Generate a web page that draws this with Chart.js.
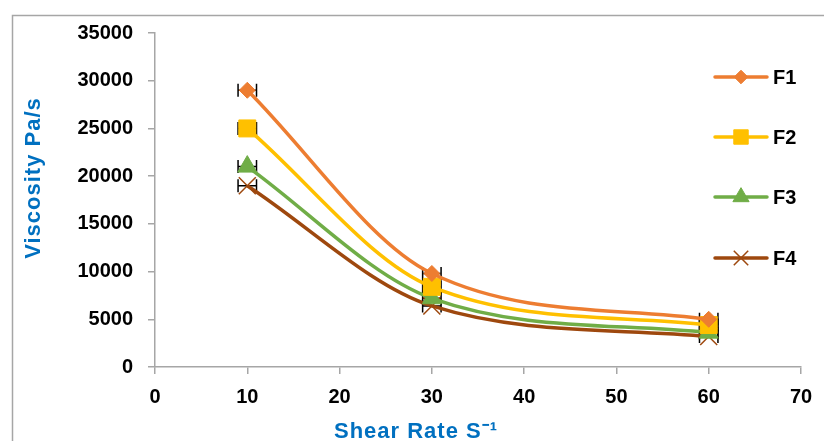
<!DOCTYPE html>
<html>
<head>
<meta charset="utf-8">
<script src="https://cdn.jsdelivr.net/npm/chart.js@4.4.1/dist/chart.umd.min.js"></script>
<style>
  html, body { margin: 0; padding: 0; background: #fff; }
  #wrap { width: 824px; height: 441px; }
</style>
</head>
<body>
<div id="wrap"><canvas id="myChart" width="824" height="441"></canvas></div>
<script>
// dane
const shearRate = [10, 30, 60];
const f1 = [29000, 9800, 5000];
const f2 = [25000, 8400, 4400];
const f3 = [21000, 7200, 3600];
const f4 = [19000, 6400, 3200];
const xError = [1, 1, 1];
const seriesNames = ['F1', 'F2', 'F3', 'F4'];
const xTicks = [0, 10, 20, 30, 40, 50, 60, 70];
const yTicks = [0, 5000, 10000, 15000, 20000, 25000, 30000, 35000];

const FONT = '"Liberation Sans", Arial, sans-serif';
const axisGray = '#a6a6a6';

function toPoints(values) {
    return shearRate.map((x, i) => ({ x: x, y: values[i] }));
}

function makeSet(label, values, color, style, radius, bw) {
    return {
        label: label,
        data: toPoints(values),
        borderColor: color,
        backgroundColor: color,
        borderWidth: 3.5,
        cubicInterpolationMode: 'monotone',
        pointStyle: style,
        pointRadius: radius,
        pointHoverRadius: radius,
        pointBackgroundColor: color,
        pointBorderColor: color,
        pointBorderWidth: bw
    };
}

// obramowanie + tytuły osi
const framePlugin = {
    id: 'frame',
    beforeDraw(chart) {
        const ctx = chart.ctx;
        ctx.save();
        ctx.fillStyle = '#fff';
        ctx.fillRect(0, 0, chart.width, chart.height);
        ctx.strokeStyle = axisGray;
        ctx.lineWidth = 1.5;
        ctx.strokeRect(12.5, 15.5, 900, 600);
        ctx.restore();
    },
    afterDraw(chart) {
        const ctx = chart.ctx;
        ctx.save();
        ctx.fillStyle = '#0070C0';
        ctx.font = 'bold 22px ' + FONT;
        ctx.letterSpacing = '1px';
        ctx.textAlign = 'center';
        ctx.textBaseline = 'alphabetic';
        ctx.fillText('Shear Rate S\u207B\u00B9', 416, 438);
        ctx.translate(40, 178);
        ctx.rotate(-Math.PI / 2);
        ctx.fillText('Viscosity Pa/s', 0, 0);
        ctx.restore();
    }
};

// poziome słupki błędów
const errorBarPlugin = {
    id: 'errorBars',
    beforeDatasetsDraw(chart) {
        const ctx = chart.ctx;
        const xs = chart.scales.x, ys = chart.scales.y;
        ctx.save();
        ctx.strokeStyle = '#000';
        ctx.lineWidth = 1.5;
        chart.data.datasets.forEach(ds => {
            ds.data.forEach((p, i) => {
                const y = ys.getPixelForValue(p.y);
                const x1 = xs.getPixelForValue(p.x - xError[i]);
                const x2 = xs.getPixelForValue(p.x + xError[i]);
                ctx.beginPath();
                ctx.moveTo(x1, y); ctx.lineTo(x2, y);
                ctx.moveTo(x1, y - 6.5); ctx.lineTo(x1, y + 6.5);
                ctx.moveTo(x2, y - 6.5); ctx.lineTo(x2, y + 6.5);
                ctx.stroke();
            });
        });
        ctx.restore();
    }
};

// legenda wewnątrz wykresu
const legendPlugin = {
    id: 'innerLegend',
    afterDatasetsDraw(chart) {
        const ctx = chart.ctx;
        const rows = [77, 137, 197, 258];
        ctx.save();
        chart.data.datasets.forEach((ds, i) => {
            const y = rows[i];
            ctx.strokeStyle = ds.borderColor;
            ctx.lineWidth = 3.5;
            ctx.lineCap = 'round';
            ctx.beginPath();
            ctx.moveTo(715, y); ctx.lineTo(767, y);
            ctx.stroke();
            ctx.fillStyle = ds.pointBackgroundColor;
            ctx.strokeStyle = ds.pointBorderColor;
            ctx.lineWidth = ds.pointBorderWidth;
            ctx.lineCap = 'butt';
            Chart.helpers.drawPoint(ctx, {
                pointStyle: ds.pointStyle,
                radius: ds.pointRadius * 0.85,
                rotation: 0,
                borderWidth: ds.pointBorderWidth
            }, 741, y);
            ctx.fillStyle = '#000';
            ctx.font = 'bold 20px ' + FONT;
            ctx.textAlign = 'left';
            ctx.textBaseline = 'middle';
            ctx.fillText(ds.label, 773, y + 1);
        });
        ctx.restore();
    }
};

const ctx = document.getElementById('myChart').getContext('2d');
const myChart = new Chart(ctx, {
    type: 'line',
    data: {
        datasets: [
            makeSet(seriesNames[0], f1, '#ED7D31', 'rectRot', 8, 1),
            makeSet(seriesNames[1], f2, '#FFC000', 'rect', 12, 1),
            makeSet(seriesNames[2], f3, '#70AD47', 'triangle', 11, 1),
            makeSet(seriesNames[3], f4, '#9E480E', 'crossRot', 12, 1.5)
        ]
    },
    options: {
        responsive: false,
        animation: false,
        devicePixelRatio: 1,
        layout: { padding: { left: 0, top: 33, right: 23, bottom: 0 } },
        plugins: {
            legend: { display: false },
            tooltip: { enabled: false }
        },
        scales: {
            x: {
                type: 'linear',
                min: 0,
                max: 70,
                afterBuildTicks: s => { s.ticks = xTicks.map(v => ({ value: v })); },
                afterFit: s => { s.height = 74; },
                ticks: {
                    color: '#000',
                    font: { family: FONT, size: 20, weight: 'bold' },
                    padding: 11,
                    maxRotation: 0,
                    callback: v => String(v)
                },
                grid: {
                    drawOnChartArea: false,
                    drawTicks: true,
                    tickLength: 7,
                    color: axisGray,
                    lineWidth: 1.5
                },
                border: { color: axisGray, width: 1.5 }
            },
            y: {
                min: 0,
                max: 35000,
                afterBuildTicks: s => { s.ticks = yTicks.map(v => ({ value: v })); },
                afterFit: s => { s.width = 155; },
                ticks: {
                    color: '#000',
                    font: { family: FONT, size: 20, weight: 'bold' },
                    padding: 15,
                    callback: v => String(v)
                },
                grid: {
                    drawOnChartArea: false,
                    drawTicks: true,
                    tickLength: 7,
                    color: axisGray,
                    lineWidth: 1.5
                },
                border: { color: axisGray, width: 1.5 }
            }
        }
    },
    plugins: [framePlugin, errorBarPlugin, legendPlugin]
});
</script>
</body>
</html>
